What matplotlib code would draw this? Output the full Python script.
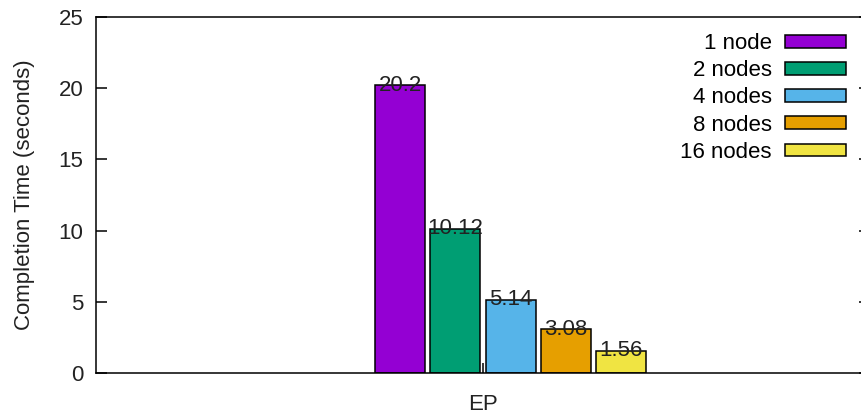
import matplotlib
matplotlib.use("Agg")
import matplotlib.pyplot as plt

# data
categories = ["EP"]
series = ["1 node", "2 nodes", "4 nodes", "8 nodes", "16 nodes"]
times = [20.2, 10.12, 5.14, 3.08, 1.56]
labels = ["20.2", "10.12", "5.14", "3.08", "1.56"]
colors = ["#9400D3", "#009E73", "#56B4E9", "#E69F00", "#F0E442"]
yticks = [0, 5, 10, 15, 20, 25]

FS = 16
plt.rcParams["font.family"] = ["Liberation Sans", "DejaVu Sans"]
plt.rcParams["font.size"] = FS

W, H = 862, 418
fig = plt.figure(figsize=(W / 100, H / 100), dpi=100)
# right edge of the frame lies just outside the picture, as in the original
ax = fig.add_axes([96 / W, (H - 373) / H, (870 - 96) / W, (373 - 17) / H])

# clustered bars, tick of the cluster sits between 2nd and 3rd bar (gnuplot style)
offsets = [-1.5, -0.5, 0.5, 1.5, 2.5]
width = 0.9
for name, val, lab, col, off in zip(series, times, labels, colors, offsets):
    ax.bar(off, val, width=width, color=col, edgecolor="black", linewidth=1.1,
           label=name, zorder=2)
    ax.text(off, val, lab, ha="center", va="center", fontsize=FS,
            color="#222222", zorder=3)

ax.set_xlim(-7, 7)
ax.set_ylim(0, 25)
ax.set_xticks([0])
ax.set_xticklabels(categories)
ax.set_yticks(yticks)

ax.tick_params(axis="y", direction="in", length=8, width=1.1, right=True,
               pad=9, colors="black", labelcolor="#222222", labelsize=FS)
ax.tick_params(axis="x", direction="in", length=7, width=1.1, top=False,
               pad=15, labelcolor="#222222", labelsize=FS)
for sp in ax.spines.values():
    sp.set_linewidth(1.1)

ax.set_ylabel("Completion Time (seconds)", fontsize=FS, color="#222222",
              labelpad=17)

ax.legend(loc="upper right", bbox_to_anchor=(846 / W, 1 - 33 / H),
          bbox_transform=fig.transFigure, frameon=False, markerfirst=False,
          handlelength=2.75, handleheight=0.52, labelspacing=0.28,
          handletextpad=0.6, borderaxespad=0, borderpad=0, fontsize=FS)

fig.savefig("out.png", dpi=100)
